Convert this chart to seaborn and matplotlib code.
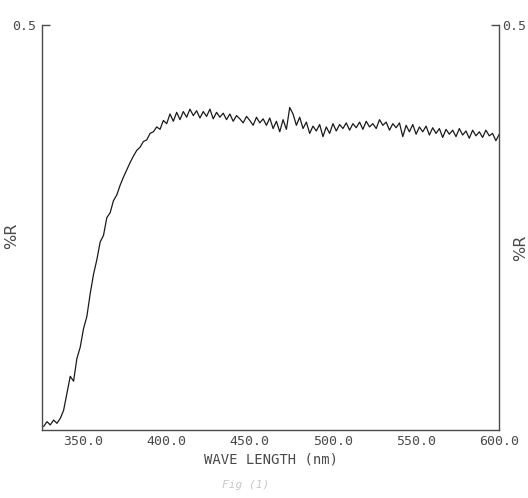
import matplotlib
matplotlib.use("Agg")
import matplotlib.pyplot as plt
import seaborn as sns
import pandas as pd

# wavelength (nm) and reflectance
wavelength = [
    326, 328, 330, 332, 334, 336, 338, 340, 342, 344, 346, 348, 350, 352, 354, 356,
    358, 360, 362, 364, 366, 368, 370, 372, 374, 376, 378, 380, 382, 384, 386, 388,
    390, 392, 394, 396, 398, 400, 402, 404, 406, 408, 410, 412, 414, 416, 418, 420,
    422, 424, 426, 428, 430, 432, 434, 436, 438, 440, 442, 444, 446, 448, 450, 452,
    454, 456, 458, 460, 462, 464, 466, 468, 470, 472, 474, 476, 478, 480, 482, 484,
    486, 488, 490, 492, 494, 496, 498, 500, 502, 504, 506, 508, 510, 512, 514, 516,
    518, 520, 522, 524, 526, 528, 530, 532, 534, 536, 538, 540, 542, 544, 546, 548,
    550, 552, 554, 556, 558, 560, 562, 564, 566, 568, 570, 572, 574, 576, 578, 580,
    582, 584, 586, 588, 590, 592, 594, 596, 598, 600,
]
reflectance = [
    0.004, 0.010, 0.006, 0.012, 0.008, 0.014, 0.024, 0.045, 0.066, 0.060, 0.088, 0.102,
    0.125, 0.140, 0.168, 0.192, 0.210, 0.232, 0.240, 0.262, 0.268, 0.283, 0.290, 0.302,
    0.312, 0.321, 0.330, 0.338, 0.345, 0.349, 0.356, 0.358, 0.366, 0.368, 0.374, 0.371,
    0.382, 0.378, 0.390, 0.381, 0.392, 0.383, 0.393, 0.386, 0.396, 0.388, 0.394, 0.385,
    0.393, 0.387, 0.396, 0.384, 0.392, 0.386, 0.391, 0.383, 0.390, 0.381, 0.388, 0.384,
    0.379, 0.387, 0.382, 0.376, 0.386, 0.379, 0.384, 0.376, 0.385, 0.372, 0.381, 0.368,
    0.383, 0.371, 0.398, 0.390, 0.376, 0.386, 0.372, 0.380, 0.366, 0.375, 0.369, 0.377,
    0.362, 0.374, 0.366, 0.378, 0.369, 0.377, 0.372, 0.379, 0.370, 0.378, 0.373, 0.380,
    0.371, 0.381, 0.374, 0.378, 0.372, 0.383, 0.376, 0.380, 0.370, 0.378, 0.373, 0.379,
    0.362, 0.376, 0.368, 0.377, 0.365, 0.374, 0.368, 0.375, 0.364, 0.373, 0.366, 0.372,
    0.361, 0.371, 0.365, 0.370, 0.362, 0.372, 0.364, 0.369, 0.360, 0.370, 0.363, 0.368,
    0.361, 0.370, 0.363, 0.366, 0.357, 0.365,
]
x_ticks = [350, 400, 450, 500, 550, 600]
x_tick_labels = ["350.0", "400.0", "450.0", "500.0", "550.0", "600.0"]

df = pd.DataFrame({"wavelength": wavelength, "R": reflectance})

sns.set_style("white")
plt.rcParams["font.family"] = ["DejaVu Sans Mono", "DejaVu Sans"]
ink = "#4a4a4a"

fig = plt.figure(figsize=(5.28, 4.98), dpi=100)
ax = fig.add_axes([0.0795, 0.137, 0.866, 0.813])

sns.lineplot(data=df, x="wavelength", y="R", ax=ax, color="#1a1a1a", linewidth=0.9)

ax.set_xlim(325, 600)
ax.set_ylim(0, 0.5)
ax.set_xticks(x_ticks)
ax.set_xticklabels(x_tick_labels)
ax.set_yticks([0.5])
ax.set_yticklabels(["0.5"])
ax.tick_params(axis="x", direction="in", length=7, width=1, colors=ink,
               labelsize=9.5, pad=4)
ax.tick_params(axis="y", direction="in", length=6, width=1, colors=ink,
               labelsize=9.5, pad=4)
ax.set_xlabel("WAVE LENGTH (nm)", fontsize=10, color=ink, labelpad=3)
ax.set_ylabel("%R", fontsize=11.5, color=ink, family="DejaVu Sans")
ax.yaxis.set_label_coords(-0.05, 0.48)

ax.spines["top"].set_visible(False)
for s in ["left", "right", "bottom"]:
    ax.spines[s].set_color(ink)
    ax.spines[s].set_linewidth(1.0)

# right-hand axis as drawn on the chart paper
ax2 = ax.twinx()
ax2.set_ylim(0, 0.5)
ax2.set_yticks([0.5])
ax2.set_yticklabels(["0.5"])
ax2.tick_params(axis="y", direction="in", length=6, width=1, colors=ink,
                labelsize=9.5, pad=2)
ax2.set_ylabel("%R", fontsize=11.5, color=ink, family="DejaVu Sans")
ax2.yaxis.set_label_coords(1.03, 0.45)
ax2.spines["top"].set_visible(False)
for s in ["left", "right", "bottom"]:
    ax2.spines[s].set_visible(False)

fig.text(0.465, 0.02, "Fig (1)", fontsize=8, color="#c8c8c8", ha="center",
         style="italic")

fig.savefig("out.png", dpi=100, facecolor="white")
